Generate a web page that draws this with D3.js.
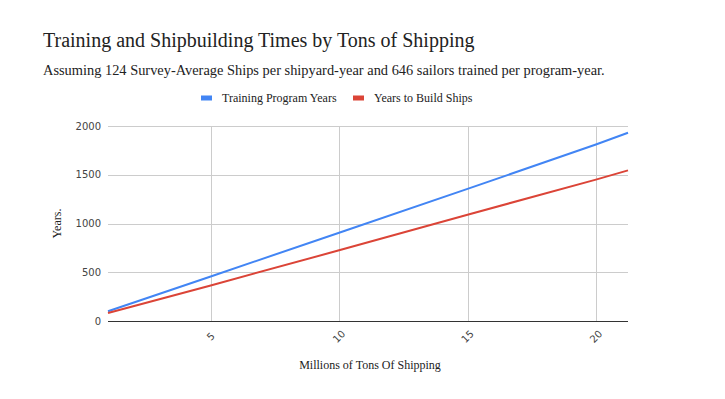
<!DOCTYPE html>
<html>
<head>
<meta charset="utf-8">
<script src="https://cdn.jsdelivr.net/npm/d3@7"></script>
<style>
  body { margin: 0; background: #fff; }
  svg { display: block; }
  .serif { font-family: "Liberation Serif", "DejaVu Serif", serif; fill: #222; }
  .tick text { font-family: "DejaVu Sans", Verdana, sans-serif; font-size: 10px; fill: #444; }
</style>
</head>
<body>
<div id="chart"></div>
<script>
// millions of tons of shipping
const tons = [1, 5, 10, 15, 20, 21.25];
// years
const trainingYears = [100, 457, 905, 1355, 1810, 1931];
const buildYears    = [82, 365, 725, 1090, 1450, 1545];
const seriesNames   = ["Training Program Years", "Years to Build Ships"];
const seriesColors  = ["#4285f4", "#db4437"];
const yTicks = [0, 500, 1000, 1500, 2000];
const xTicks = [5, 10, 15, 20];

const W = 725, H = 399;
const dims = { left: 108, right: 97, top: 126, bottom: 78 };

const svg = d3.select("#chart").append("svg")
  .attr("width", W).attr("height", H);

svg.append("text").attr("class", "serif")
  .attr("x", 43).attr("y", 47)
  .style("font-size", "20px")
  .text("Training and Shipbuilding Times by Tons of Shipping");

svg.append("text").attr("class", "serif")
  .attr("x", 43).attr("y", 75)
  .style("font-size", "14.4px")
  .text("Assuming 124 Survey-Average Ships per shipyard-year and 646 sailors trained per program-year.");

// legend
const legend = svg.append("g").attr("transform", "translate(201,98)");
const legX = [0, 152];
seriesNames.forEach((name, i) => {
  const g = legend.append("g").attr("transform", `translate(${legX[i]},0)`);
  g.append("rect").attr("x", 0).attr("y", -2.5).attr("width", 11).attr("height", 5)
    .attr("fill", seriesColors[i]);
  g.append("text").attr("class", "serif")
    .attr("x", 21).attr("y", 4)
    .style("font-size", "12px")
    .text(name);
});

const pw = W - dims.left - dims.right;
const ph = H - dims.top - dims.bottom;

const xScale = d3.scaleLinear().domain([d3.min(tons), d3.max(tons)]).range([0, pw]);
const yScale = d3.scaleLinear().domain([0, 2000]).range([ph, 0]);

const root = svg.append("g").attr("transform", `translate(${dims.left},${dims.top})`);

// gridlines
root.append("g").selectAll("line").data(yTicks.slice(1)).join("line")
  .attr("x1", 0).attr("x2", pw)
  .attr("y1", d => Math.round(yScale(d)) + 0.5).attr("y2", d => Math.round(yScale(d)) + 0.5)
  .attr("stroke", "#cccccc");
root.append("g").selectAll("line").data(xTicks).join("line")
  .attr("y1", 0).attr("y2", ph)
  .attr("x1", d => Math.round(xScale(d)) + 0.5).attr("x2", d => Math.round(xScale(d)) + 0.5)
  .attr("stroke", "#cccccc");

// y axis labels
const yAxis = root.append("g")
  .call(d3.axisLeft(yScale).tickValues(yTicks).tickFormat(d3.format("d")).tickSize(0).tickPadding(7));
yAxis.select(".domain").remove();

// x axis labels
const xAxis = root.append("g").attr("transform", `translate(0,${ph})`)
  .call(d3.axisBottom(xScale).tickValues(xTicks).tickSize(0));
xAxis.select(".domain").remove();
xAxis.selectAll(".tick text")
  .attr("y", 0).attr("dy", 0)
  .attr("text-anchor", "middle")
  .attr("transform", "translate(2,18) rotate(-45)");

// baseline
root.append("line")
  .attr("x1", 0).attr("x2", pw)
  .attr("y1", ph + 0.5).attr("y2", ph + 0.5)
  .attr("stroke", "#333");

// lines
const line = d3.line().x((d, i) => xScale(tons[i])).y(d => yScale(d));
[trainingYears, buildYears].forEach((vals, i) => {
  root.append("path")
    .datum(vals)
    .attr("fill", "none")
    .attr("stroke", seriesColors[i])
    .attr("stroke-width", 2)
    .attr("d", line);
});

// axis titles
svg.append("text").attr("class", "serif")
  .attr("transform", `translate(61,${dims.top + ph / 2}) rotate(-90)`)
  .attr("text-anchor", "middle")
  .style("font-size", "12px")
  .text("Years.");

svg.append("text").attr("class", "serif")
  .attr("x", dims.left + pw / 2 + 2).attr("y", 369)
  .attr("text-anchor", "middle")
  .style("font-size", "12px")
  .text("Millions of Tons Of Shipping");
</script>
</body>
</html>
